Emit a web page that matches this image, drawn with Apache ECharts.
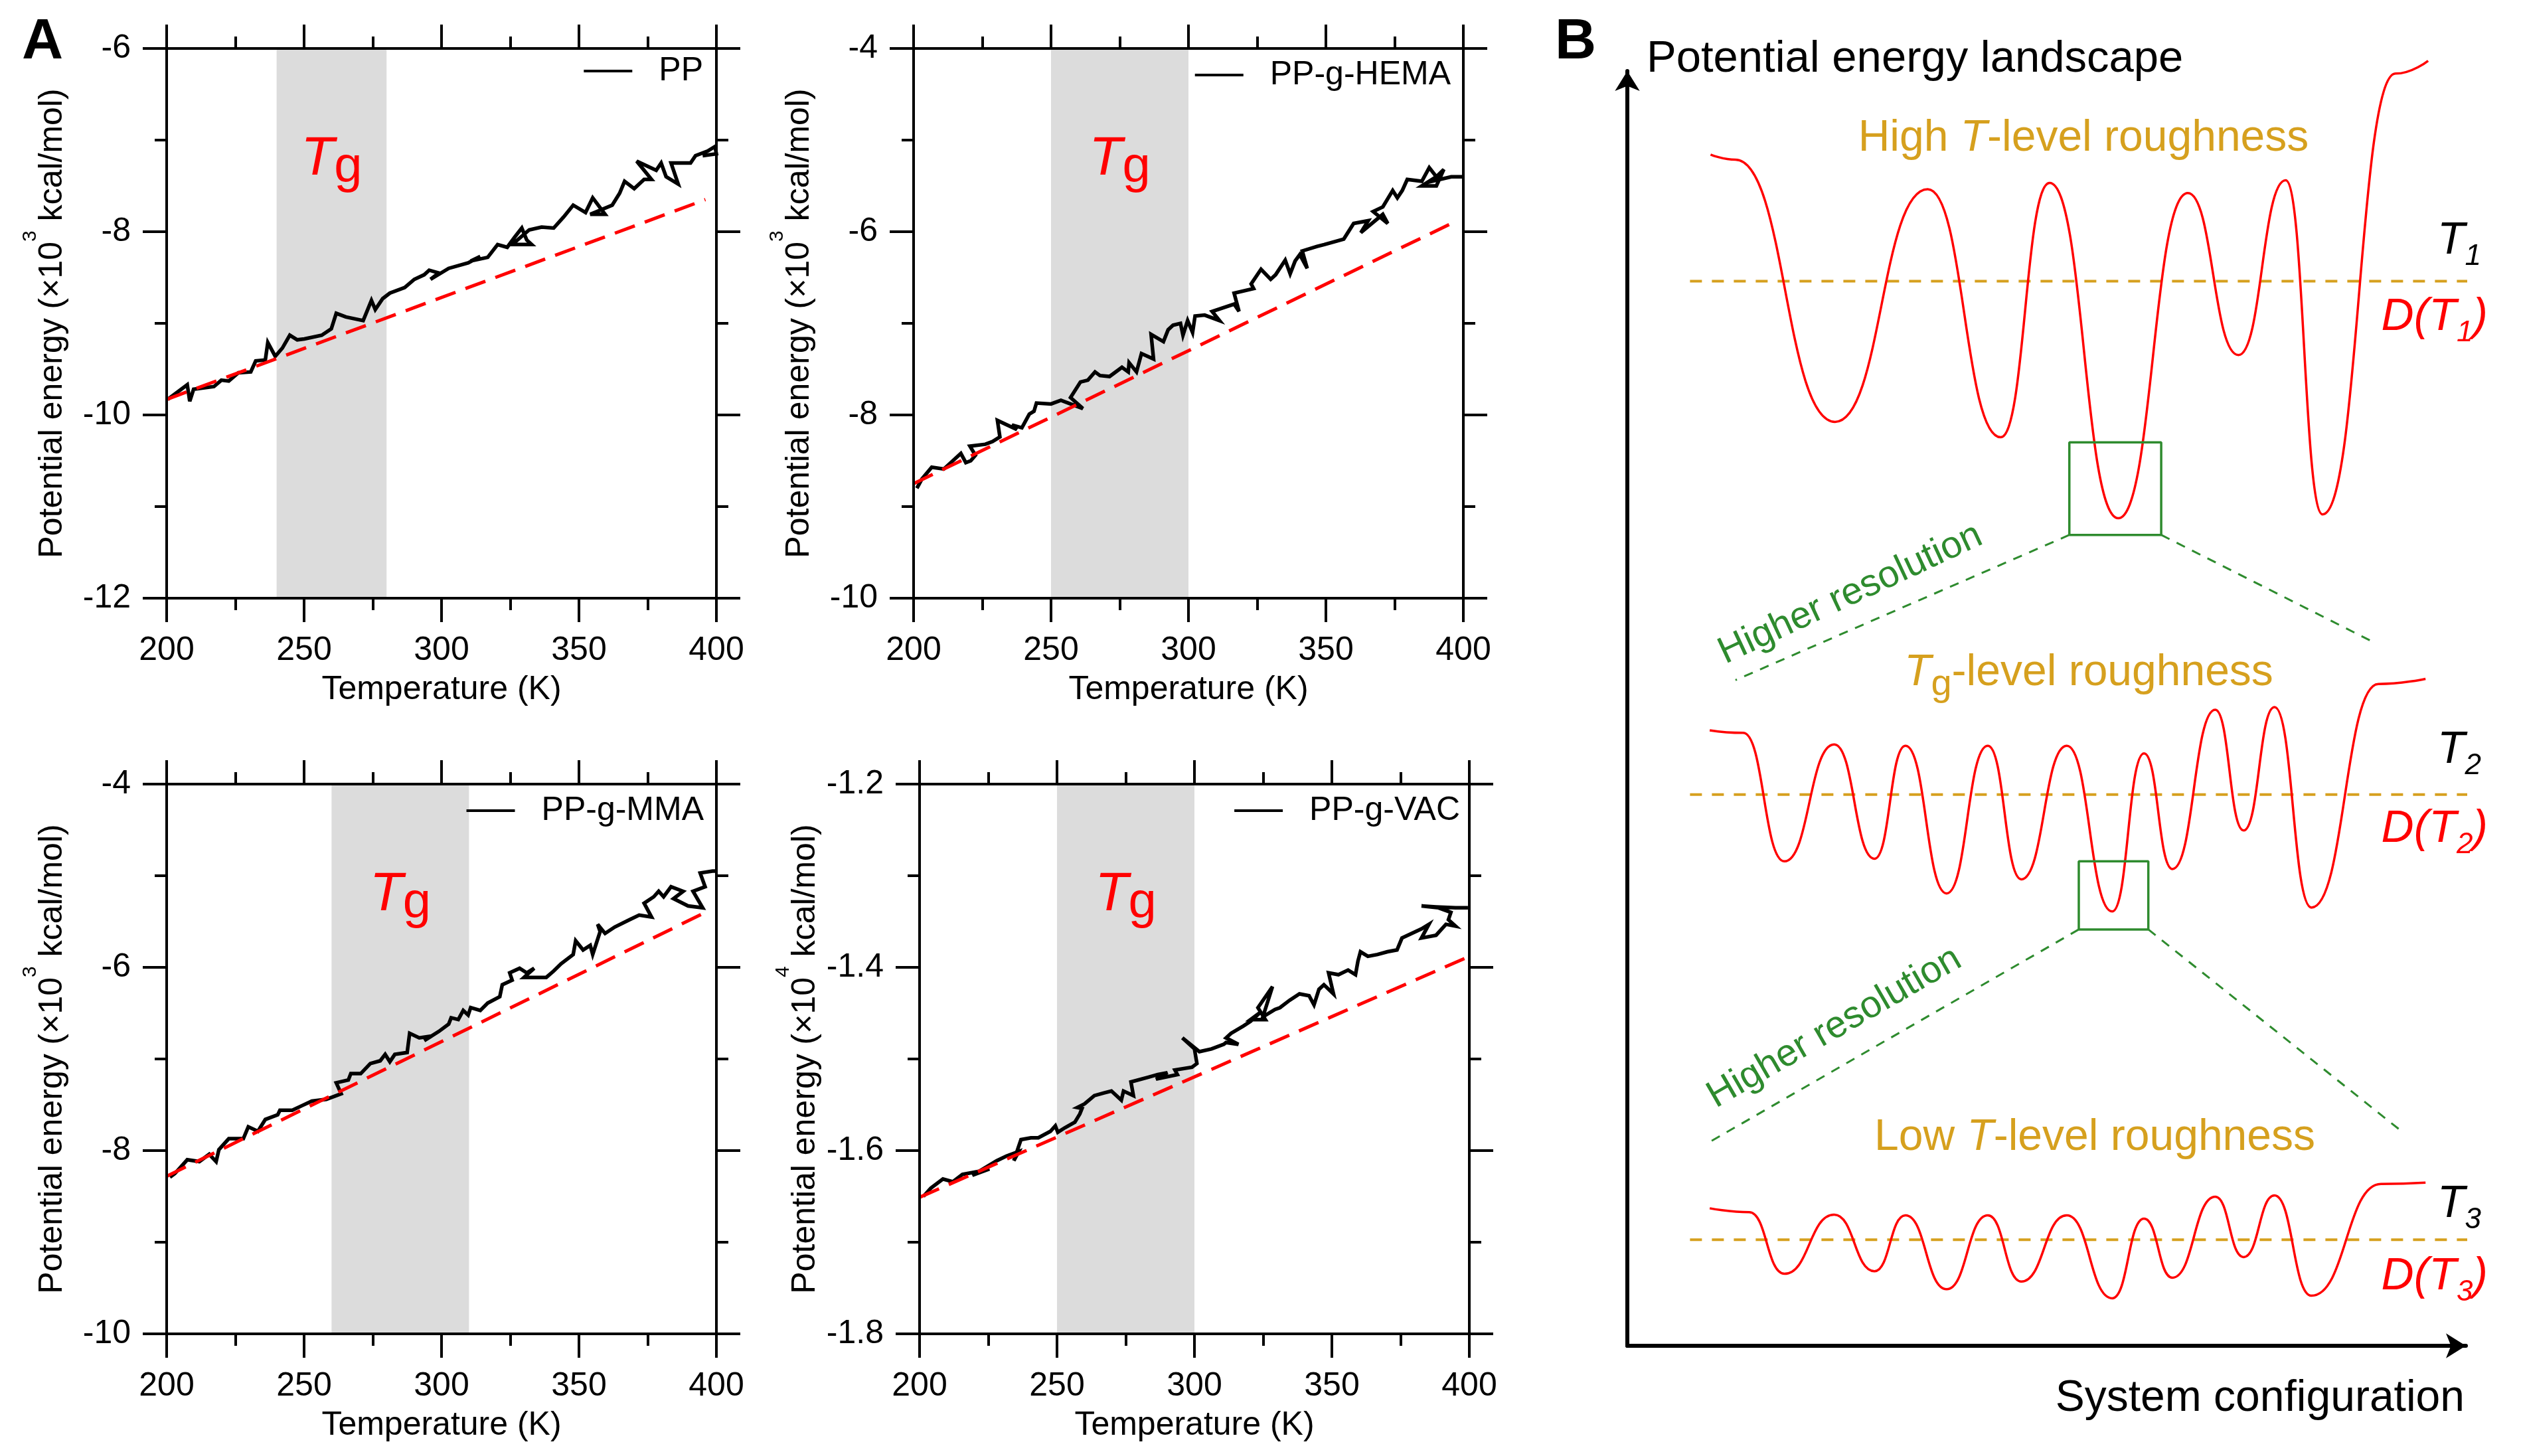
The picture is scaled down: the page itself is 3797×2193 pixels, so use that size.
<!DOCTYPE html>
<html>
<head>
<meta charset="utf-8">
<title>Potential energy and landscape roughness</title>
<script src="https://cdn.jsdelivr.net/npm/echarts@6/dist/echarts.min.js"></script>
<style>
  html, body { margin: 0; padding: 0; background: #ffffff; }
  #chart { width: 3797px; height: 2193px; }
</style>
</head>
<body>
<div id="chart"></div>
<script>
// ------------------------------ BEGIN DATA ---------------------------------
// Panel A : potential energy vs temperature for the four systems
var temperatureRange = [200, 400];
var temperatureStep = 50;

var panelNames = ['PP', 'PP-g-HEMA', 'PP-g-MMA', 'PP-g-VAC'];
var energyRanges = [[-12, -6], [-10, -4], [-10, -4], [-1.8, -1.2]];
var energySteps = [2, 2, 2, 0.2];
var energyExponents = ['3', '3', '3', '4'];
var tgBands = [[240, 280], [250, 300], [260, 310], [250, 300]];

var ppEnergy = [
  [200.4, -9.83], [207.5, -9.67], [208.4, -9.85], [209.8, -9.72], [217.2, -9.69],
  [219.9, -9.62], [222.6, -9.63], [226.1, -9.54], [230.6, -9.53], [232.4, -9.41],
  [235.9, -9.40], [236.8, -9.21], [239.5, -9.36], [242.1, -9.27], [244.8, -9.13],
  [247.5, -9.18], [250.1, -9.17], [256.4, -9.13], [259.9, -9.06], [261.7, -8.89],
  [265.2, -8.93], [271.5, -8.97], [274.5, -8.75], [275.9, -8.85], [278.6, -8.73],
  [281.2, -8.67], [286.6, -8.61], [290.1, -8.52], [293.7, -8.47], [295.5, -8.42],
  [299.0, -8.45], [296.0, -8.52], [302.6, -8.40], [309.7, -8.34], [314.1, -8.27],
  [310.6, -8.32], [316.8, -8.28], [320.4, -8.14], [323.9, -8.17], [326.6, -8.06],
  [329.2, -7.96], [331.0, -8.09], [332.8, -8.14], [325.7, -8.14], [331.9, -7.98],
  [336.4, -7.95], [340.8, -7.96], [344.4, -7.84], [347.9, -7.71], [352.4, -7.79],
  [355.0, -7.63], [359.5, -7.81], [354.1, -7.81], [362.1, -7.71], [364.8, -7.58],
  [366.6, -7.45], [370.1, -7.53], [373.7, -7.43], [376.4, -7.43], [371.0, -7.23],
  [378.1, -7.33], [379.9, -7.25], [381.7, -7.40], [386.1, -7.48], [383.5, -7.25],
  [390.6, -7.25], [392.4, -7.17], [396.8, -7.12], [399.5, -7.07], [400.0, -7.15],
  [395.0, -7.17]
];
var hemaEnergy = [
  [201.2, -8.80], [203.0, -8.70], [206.6, -8.57], [211.0, -8.59], [217.2, -8.42],
  [219.0, -8.52], [220.8, -8.50], [222.5, -8.44], [220.5, -8.34], [226.1, -8.32],
  [228.7, -8.29], [231.4, -8.24], [230.5, -8.06], [237.6, -8.16], [235.8, -8.11],
  [239.4, -8.14], [242.1, -7.99], [243.8, -7.96], [244.7, -7.87], [250.0, -7.88],
  [253.6, -7.84], [261.6, -7.93], [257.1, -7.81], [260.7, -7.64], [263.4, -7.62],
  [266.0, -7.53], [267.8, -7.57], [271.3, -7.58], [275.8, -7.48], [278.1, -7.53],
  [278.4, -7.43], [281.1, -7.53], [282.9, -7.33], [287.3, -7.39], [286.4, -7.12],
  [290.9, -7.20], [292.6, -7.07], [294.4, -7.02], [297.1, -7.00], [298.0, -7.13],
  [299.7, -6.97], [301.5, -7.10], [302.4, -6.92], [305.9, -6.91], [311.3, -6.97],
  [308.6, -6.87], [316.6, -6.79], [318.4, -6.87], [316.6, -6.67], [323.7, -6.62],
  [322.8, -6.57], [326.4, -6.41], [329.9, -6.52], [331.7, -6.47], [335.2, -6.31],
  [337.0, -6.46], [338.8, -6.32], [340.5, -6.25], [343.2, -6.40], [341.4, -6.21],
  [346.8, -6.16], [349.4, -6.14], [356.5, -6.08], [360.1, -5.91], [365.4, -5.88],
  [362.7, -6.01], [370.7, -5.81], [372.5, -5.91], [367.2, -5.78], [370.7, -5.73],
  [374.3, -5.55], [376.0, -5.63], [377.8, -5.55], [379.6, -5.43], [384.9, -5.45],
  [387.6, -5.30], [390.2, -5.40], [384.9, -5.50], [390.2, -5.50], [392.9, -5.32],
  [388.5, -5.45], [395.6, -5.40], [400.0, -5.40]
];
var mmaEnergy = [
  [201.2, -8.29], [203.0, -8.25], [207.5, -8.10], [211.9, -8.12], [215.5, -8.04],
  [218.0, -8.12], [219.0, -7.99], [222.6, -7.87], [227.9, -7.87], [229.7, -7.74],
  [233.2, -7.79], [235.9, -7.66], [240.4, -7.61], [241.2, -7.56], [245.7, -7.56],
  [249.2, -7.51], [252.8, -7.46], [258.1, -7.44], [263.5, -7.38], [261.7, -7.26],
  [266.1, -7.23], [267.0, -7.16], [270.6, -7.16], [274.1, -7.05], [277.7, -7.02],
  [279.5, -6.95], [281.2, -7.03], [283.0, -6.95], [287.5, -6.93], [288.4, -6.72],
  [291.9, -6.77], [296.4, -6.75], [293.7, -6.80], [299.0, -6.70], [302.6, -6.62],
  [303.5, -6.55], [306.1, -6.57], [307.9, -6.47], [309.7, -6.52], [310.6, -6.44],
  [314.1, -6.47], [316.8, -6.39], [321.2, -6.32], [322.1, -6.19], [325.7, -6.14],
  [324.8, -6.06], [328.4, -6.01], [331.0, -6.06], [333.7, -6.01], [330.0, -6.11],
  [334.6, -6.11], [338.1, -6.11], [340.8, -6.04], [343.5, -5.96], [347.9, -5.86],
  [348.8, -5.71], [351.5, -5.81], [354.1, -5.76], [355.0, -5.86], [357.7, -5.61],
  [356.8, -5.53], [359.5, -5.63], [363.0, -5.56], [368.4, -5.48], [371.9, -5.43],
  [376.4, -5.45], [373.7, -5.30], [377.2, -5.23], [379.0, -5.17], [380.8, -5.23],
  [383.5, -5.12], [387.9, -5.17], [384.4, -5.25], [389.7, -5.33], [395.0, -5.35],
  [391.5, -5.17], [395.9, -5.12], [394.1, -4.97], [398.6, -4.95], [400.0, -4.95]
];
var vacEnergy = [
  [201.4, -1.650], [204.1, -1.641], [208.5, -1.631], [212.1, -1.634], [215.6, -1.626],
  [221.0, -1.623], [225.4, -1.620], [219.2, -1.627], [228.1, -1.611], [231.6, -1.606],
  [236.1, -1.601], [234.3, -1.611], [236.9, -1.588], [240.5, -1.586], [243.2, -1.586],
  [247.6, -1.579], [249.4, -1.573], [250.3, -1.580], [252.9, -1.575], [256.5, -1.569],
  [258.3, -1.560], [259.1, -1.554], [257.4, -1.553], [260.0, -1.549], [263.6, -1.540],
  [267.1, -1.537], [269.8, -1.535], [273.4, -1.545], [274.2, -1.535], [277.8, -1.540],
  [276.9, -1.525], [283.1, -1.520], [286.7, -1.517], [290.2, -1.515], [286.0, -1.522],
  [293.8, -1.517], [292.9, -1.512], [299.1, -1.509], [300.9, -1.505], [300.0, -1.489],
  [295.6, -1.477], [301.8, -1.492], [306.2, -1.489], [310.7, -1.484], [311.5, -1.482],
  [316.0, -1.484], [311.5, -1.477], [313.3, -1.472], [317.8, -1.464], [320.4, -1.459],
  [324.0, -1.449], [320.4, -1.457], [325.8, -1.457], [323.1, -1.444], [328.4, -1.421],
  [324.9, -1.454], [329.3, -1.446], [331.1, -1.444], [334.6, -1.436], [338.2, -1.429],
  [341.7, -1.431], [343.5, -1.441], [345.3, -1.424], [347.1, -1.419], [350.6, -1.429],
  [348.8, -1.406], [352.4, -1.408], [355.9, -1.403], [358.6, -1.408], [359.5, -1.393],
  [360.4, -1.383], [363.1, -1.388], [366.6, -1.386], [370.2, -1.383], [373.7, -1.381],
  [375.5, -1.368], [379.0, -1.363], [382.6, -1.358], [385.3, -1.353], [382.6, -1.368],
  [387.9, -1.365], [391.5, -1.353], [395.0, -1.355], [392.4, -1.348], [393.3, -1.340],
  [388.8, -1.335], [382.6, -1.333], [387.9, -1.334], [395.0, -1.335], [399.5, -1.335]
];
var energySeries = [ppEnergy, hemaEnergy, mmaEnergy, vacEnergy];

// red dashed linear fits (start, end)
var ppFit = [[200, -9.83], [396, -7.65]];
var hemaFit = [[200, -8.75], [397.7, -5.88]];
var mmaFit = [[200, -8.28], [396, -5.40]];
var vacFit = [[200, -1.651], [400, -1.388]];
var fitSeries = [ppFit, hemaFit, mmaFit, vacFit];

// Panel B : schematic landscapes (config units 0-100, energy units 0-100)
var landscapeHighT = [
  [9.7, 92.7], [12.6, 92.3], [24.2, 71.9], [35.0, 90.0], [43.5, 70.7],
  [49.2, 90.5], [57.2, 64.4], [65.3, 89.7], [71.2, 77.1], [76.7, 90.7],
  [81.0, 64.7], [89.5, 99.0], [93.3, 100.0]
];
var landscapeTg = [
  [9.6, 47.9], [13.5, 47.7], [18.3, 37.7], [24.1, 46.8], [28.8, 37.9],
  [32.4, 46.7], [37.2, 35.2], [42.0, 46.7], [45.9, 36.3], [51.2, 46.7],
  [56.5, 33.8], [60.2, 46.1], [63.5, 37.1], [68.5, 49.5], [71.8, 40.1],
  [75.4, 49.7], [79.7, 34.1], [87.5, 51.5], [93.0, 51.9]
];
var landscapeLowT = [
  [9.6, 10.7], [14.2, 10.4], [18.3, 5.6], [24.1, 10.2], [28.8, 5.8],
  [32.4, 10.15], [37.2, 4.4], [42.0, 10.15], [45.9, 5.0], [51.2, 10.15],
  [56.5, 3.7], [60.2, 9.9], [63.5, 5.3], [68.5, 11.6], [71.8, 6.9],
  [75.4, 11.7], [79.7, 3.9], [87.8, 12.6], [93.0, 12.7]
];
var levelHeights = [82.85, 42.9, 8.26];
var levelSpan = [7.3, 98.7];
var zoomBoxes = [[51.5, 63.1, 62.2, 70.3], [52.6, 32.4, 60.7, 37.7]];
var zoomGuides = [
  [[51.5, 63.1], [12.6, 51.8]],
  [[62.2, 63.1], [86.5, 54.9]],
  [[52.6, 32.4], [9.7, 15.9]],
  [[60.7, 32.4], [90.2, 16.7]]
];
// ------------------------------- END DATA ----------------------------------

var chartFigure = (function () {
  // ---------------------- BEGIN MODULE SCOPE VARIABLES ---------------------
  var
    FONT = '"Liberation Sans", Arial, Helvetica, sans-serif',
    RED = '#ff0000',
    GOLD = '#d6a01e',
    GREEN = '#2e8b2e',
    PLOT_SIZE = 828,
    plotBoxes = [
      { left : 251,  top : 73 },
      { left : 1376, top : 73 },
      { left : 251,  top : 1181 },
      { left : 1385, top : 1181 }
    ],
    legendSpots = [
      { right : 2738, top : 82 },
      { right : 1612, top : 88 },
      { right : 2737, top : 1196 },
      { right : 1598, top : 1196 }
    ],

    buildPanelA, buildPanelB, buildGraphics, initModule
  ;
  // ----------------------- END MODULE SCOPE VARIABLES ----------------------

  // Begin method /buildPanelA/
  buildPanelA = function (i, option) {
    var box = plotBoxes[i], range = energyRanges[i],
      lineStyle = { show : true, onZero : false, lineStyle : { color : '#000', width : 4 } },
      tickStyle = { show : true, inside : false, length : 36, lineStyle : { color : '#000', width : 4 } },
      minorStyle = { show : true, splitNumber : 2, length : 18, lineStyle : { color : '#000', width : 4 } };

    option.grid.push({
      left : box.left, top : box.top, width : PLOT_SIZE, height : PLOT_SIZE,
      outerBoundsMode : 'none'
    });

    ['bottom', 'top'].forEach(function (pos) {
      option.xAxis.push({
        type : 'value', gridIndex : i, position : pos, z : 10,
        min : temperatureRange[0], max : temperatureRange[1], interval : temperatureStep,
        axisLine : lineStyle, axisTick : tickStyle, minorTick : minorStyle,
        splitLine : { show : false }, minorSplitLine : { show : false },
        axisLabel : { show : pos === 'bottom', fontSize : 50, color : '#000', fontFamily : FONT, margin : 54 },
        name : pos === 'bottom' ? 'Temperature (K)' : '',
        nameLocation : 'middle', nameGap : 113, nameMoveOverlap : false,
        nameTextStyle : { fontSize : 50, color : '#000', fontFamily : FONT }
      });
    });

    ['left', 'right'].forEach(function (pos) {
      option.yAxis.push({
        type : 'value', gridIndex : i, position : pos, z : 10,
        min : range[0], max : range[1], interval : energySteps[i],
        axisLine : lineStyle, axisTick : tickStyle, minorTick : minorStyle,
        splitLine : { show : false }, minorSplitLine : { show : false },
        axisLabel : { show : pos === 'left', fontSize : 50, color : '#000', fontFamily : FONT, margin : 54 },
        name : pos === 'left' ? 'Potential energy (×10{sup|' + energyExponents[i] + '} kcal/mol)' : '',
        nameLocation : 'middle', nameGap : 124, nameRotate : 90, nameMoveOverlap : false,
        nameTextStyle : {
          fontSize : 50, color : '#000', fontFamily : FONT,
          rich : {
            sup : { fontSize : 30, color : '#000', fontFamily : FONT, verticalAlign : 'top', padding : [0, 0, 66, 0] }
          }
        }
      });
    });

    // grey Tg band with its label
    option.series.push({
      type : 'line', xAxisIndex : 2 * i, yAxisIndex : 2 * i, data : [], z : 1, silent : true,
      markArea : {
        silent : true,
        itemStyle : { color : '#dcdcdc' },
        label : {
          show : true, position : ['50%', 116], align : 'center', verticalAlign : 'top',
          formatter : '{t|T}{g|g}',
          rich : {
            t : { fontSize : 82, fontStyle : 'italic', color : RED, fontFamily : FONT },
            g : { fontSize : 76, color : RED, fontFamily : FONT, padding : [26, 0, 0, 0] }
          }
        },
        data : [[{ xAxis : tgBands[i][0] }, { xAxis : tgBands[i][1] }]]
      }
    });

    option.series.push({
      type : 'line', name : panelNames[i], xAxisIndex : 2 * i, yAxisIndex : 2 * i,
      data : energySeries[i], showSymbol : false, z : 3, color : '#000',
      lineStyle : { color : '#000', width : 5.5, join : 'miter', miterLimit : 4 }
    });

    option.series.push({
      type : 'line', xAxisIndex : 2 * i, yAxisIndex : 2 * i,
      data : fitSeries[i], showSymbol : false, z : 4, silent : true,
      lineStyle : { color : RED, width : 5, type : [32, 16] }
    });

    option.legend.push({
      data : [panelNames[i]], selectedMode : false, padding : 0,
      right : legendSpots[i].right, top : legendSpots[i].top,
      icon : 'rect', itemWidth : 73, itemHeight : 4,
      textStyle : { fontSize : 50, color : '#000', fontFamily : FONT, padding : [0, 0, 0, 35] }
    });
  };
  // End method /buildPanelA/

  // Begin method /buildPanelB/
  buildPanelB = function (option) {
    var gi = 4, ai = 8,
      arrowLine = {
        show : true, onZero : false, symbol : ['none', 'arrow'], symbolSize : [28, 30],
        lineStyle : { color : '#000', width : 6 }
      },
      addLine = function (data, style, smooth) {
        option.series.push({
          type : 'line', xAxisIndex : ai, yAxisIndex : ai, data : data,
          showSymbol : false, clip : false, silent : true,
          smooth : smooth ? 0.5 : false, smoothMonotone : smooth ? 'x' : undefined,
          lineStyle : style
        });
      };

    option.grid.push({ left : 2451, top : 107, width : 1263, height : 1920, outerBoundsMode : 'none' });
    option.xAxis.push({
      type : 'value', gridIndex : gi, min : 0, max : 97.7,
      axisLine : arrowLine, axisTick : { show : false }, axisLabel : { show : false },
      splitLine : { show : false }
    });
    option.yAxis.push({
      type : 'value', gridIndex : gi, min : 0, max : 99.2,
      axisLine : arrowLine, axisTick : { show : false }, axisLabel : { show : false },
      splitLine : { show : false }
    });

    levelHeights.forEach(function (h) {
      addLine([[levelSpan[0], h], [levelSpan[1], h]], { color : GOLD, width : 4, type : [18, 15] }, false);
    });
    [landscapeHighT, landscapeTg, landscapeLowT].forEach(function (curve) {
      addLine(curve, { color : RED, width : 3.5 }, true);
    });
    zoomBoxes.forEach(function (b) {
      addLine([[b[0], b[1]], [b[2], b[1]], [b[2], b[3]], [b[0], b[3]], [b[0], b[1]]],
        { color : GREEN, width : 3.5 }, false);
    });
    zoomGuides.forEach(function (g) {
      addLine(g, { color : GREEN, width : 3, type : [14, 12] }, false);
    });
  };
  // End method /buildPanelB/

  // Begin method /buildGraphics/
  buildGraphics = function () {
    var text = function (x, y, style, rotation) {
      var s = Object.assign({ fontFamily : FONT, fill : '#000', verticalAlign : 'middle' }, style);
      return { type : 'text', x : x, y : y, rotation : rotation || 0, silent : true, style : s };
    },
      tRich = function (color) {
        return {
          t : { fontSize : 68, fontStyle : 'italic', fill : color, fontFamily : FONT },
          s : { fontSize : 44, fontStyle : 'italic', fill : color, fontFamily : FONT, padding : [46, 0, 0, 0] }
        };
      },
      goldRich = {
        n : { fontSize : 66, fill : GOLD, fontFamily : FONT },
        i : { fontSize : 66, fill : GOLD, fontFamily : FONT, fontStyle : 'italic' },
        g : { fontSize : 56, fill : GOLD, fontFamily : FONT, padding : [35, 0, 0, 0] }
      },
      items = [
        text(33, 64, { text : 'A', fontSize : 86, fontWeight : 'bold' }),
        text(2342, 64, { text : 'B', fontSize : 86, fontWeight : 'bold' }),
        text(2480, 90, { text : 'Potential energy landscape', fontSize : 67 }),
        text(3712, 2107, { text : 'System configuration', fontSize : 66, align : 'right' }),
        text(3138, 209, { text : '{n|High }{i|T}{n|-level roughness}', align : 'center', rich : goldRich }),
        text(3146, 1014, { text : '{i|T}{g|g}{n|-level roughness}', align : 'center', rich : goldRich }),
        text(3155, 1714, { text : '{n|Low }{i|T}{n|-level roughness}', align : 'center', rich : goldRich }),
        text(2787, 895, { text : 'Higher resolution', fontSize : 57, fill : GREEN, align : 'center' }, 25 * Math.PI / 180),
        text(2763, 1548, { text : 'Higher resolution', fontSize : 57, fill : GREEN, align : 'center' }, 30 * Math.PI / 180)
      ],
      tBase = [387, 1154, 1838],
      dBase = [502, 1273, 1947];

    [0, 1, 2].forEach(function (k) {
      var n = String(k + 1);
      items.push(text(3737, tBase[k] - 23.6, {
        text : '{t|T}{s|' + n + '}', align : 'right', rich : tRich('#000')
      }));
      items.push(text(3747, dBase[k] - 23.6, {
        text : '{t|D(T}{s|' + n + '}{t|)}', align : 'right', rich : tRich(RED)
      }));
    });
    return items;
  };
  // End method /buildGraphics/

  // Begin public method /initModule/
  initModule = function (dom) {
    var chart = echarts.init(dom, null, { renderer : 'canvas' }),
      option = {
        animation : false,
        backgroundColor : '#ffffff',
        textStyle : { fontFamily : FONT },
        grid : [], xAxis : [], yAxis : [], legend : [], series : []
      },
      i;

    for (i = 0; i < 4; i++) {
      buildPanelA(i, option);
    }
    buildPanelB(option);
    option.graphic = buildGraphics();

    chart.setOption(option);
    return true;
  };
  // End public method /initModule/

  return { initModule : initModule };
}());

chartFigure.initModule(document.getElementById('chart'));
</script>
</body>
</html>
